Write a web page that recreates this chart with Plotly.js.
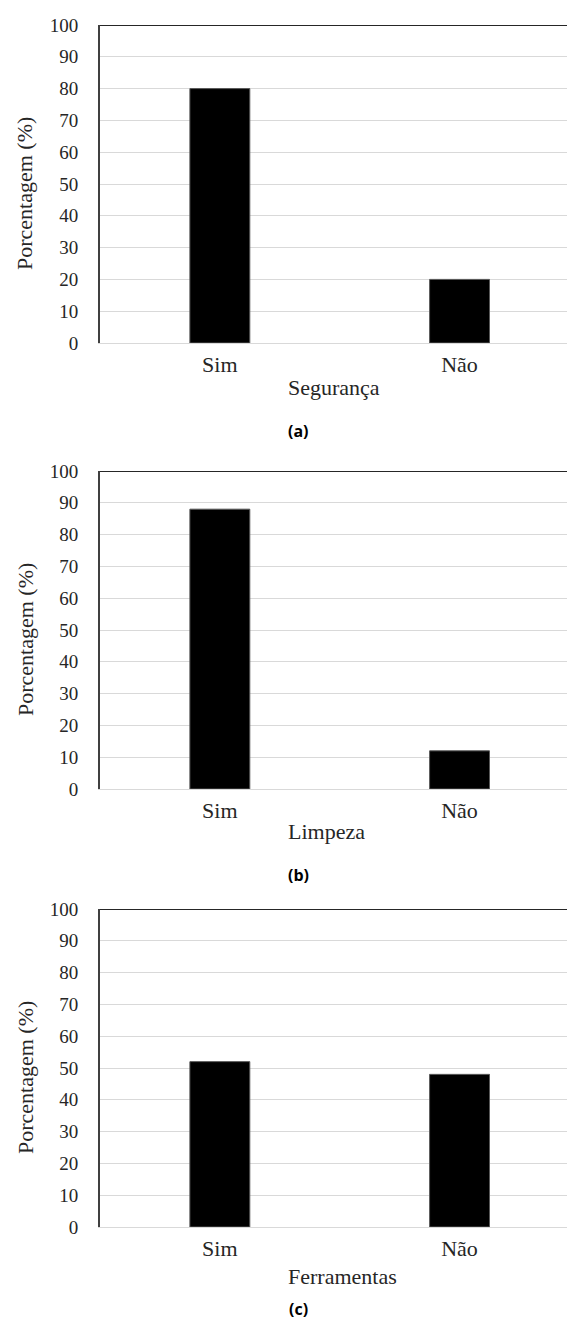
<!DOCTYPE html>
<html>
<head>
<meta charset="utf-8">
<script src="https://cdn.plot.ly/plotly-3.0.1.min.js"></script>
<style>html,body{margin:0;padding:0;background:#fff;}#chart{width:567px;height:1324px;}</style>
</head>
<body>
<div id="chart"></div>
<script>
// ---- data ----
const categories = ["Sim", "Não"];
const seguranca = [80, 20];
const limpeza = [88, 12];
const ferramentas = [52, 48];
const axisTitles = ["Segurança", "Limpeza", "Ferramentas"];
const panelLabels = ["(a)", "(b)", "(c)"];
const yTitle = "Porcentagem (%)";
const yTicks = [0, 10, 20, 30, 40, 50, 60, 70, 80, 90, 100];

// ---- layout geometry (pixels) ----
const W = 567, H = 1324, L = 100;
const PW = W - L;
const panels = [
  {top: 25, bottom: 343, titleY: 387, labelY: 431, ytitleY: 194},
  {top: 471, bottom: 789, titleY: 831, labelY: 875, ytitleY: 640},
  {top: 909, bottom: 1227, titleY: 1276, labelY: 1309, ytitleY: 1078}
];
const xp = px => (px - L) / PW;
const yp = py => 1 - py / H;
const series = [seguranca, limpeza, ferramentas];

const serif = "Liberation Serif";
const traces = [];
const layout = {
  width: W, height: H,
  margin: {l: L, r: 0, t: 0, b: 0, pad: 0},
  paper_bgcolor: "#fff", plot_bgcolor: "#fff",
  showlegend: false,
  bargap: 0.75,
  font: {family: serif},
  annotations: [], shapes: []
};

series.forEach((vals, i) => {
  const n = i === 0 ? "" : String(i + 1);
  const p = panels[i];
  traces.push({
    type: "bar", x: categories, y: vals,
    xaxis: "x" + n, yaxis: "y" + n,
    marker: {color: "#000", line: {color: "#595959", width: 1}},
    hoverinfo: "skip"
  });
  layout["xaxis" + n] = {
    domain: [0, 1], anchor: "y" + n, type: "category",
    range: [-0.5, -0.5 + PW / 239.7],
    showgrid: false, zeroline: false,
    showline: true, linecolor: "#d9d9d9", linewidth: 1,
    ticks: "", ticklabelstandoff: 2,
    tickfont: {family: serif, size: 22, color: "#262626"},
    fixedrange: true
  };
  layout["yaxis" + n] = {
    domain: [yp(p.bottom), yp(p.top)], anchor: "x" + n,
    range: [0, 100], tickvals: yTicks, ticktext: yTicks.map(String),
    showgrid: true, gridcolor: "#d9d9d9", gridwidth: 1,
    zeroline: false,
    showline: true, linecolor: "#404040", linewidth: 2,
    ticks: "", ticklabelstandoff: 16,
    tickfont: {family: serif, size: 19, color: "#262626"},
    fixedrange: true
  };
  layout.shapes.push({
    type: "line", xref: "x" + n + " domain", yref: "y" + n,
    x0: 0, x1: 1, y0: 100, y1: 100,
    line: {color: "#262626", width: 2}
  });
  layout.annotations.push({
    text: axisTitles[i], xref: "paper", yref: "paper",
    x: xp(286), y: yp(p.titleY), xanchor: "left", yanchor: "middle",
    showarrow: false, font: {family: serif, size: 22, color: "#262626"}
  });
  layout.annotations.push({
    text: yTitle, xref: "paper", yref: "paper", textangle: -90,
    x: xp(25), y: yp(p.ytitleY), xanchor: "center", yanchor: "middle",
    showarrow: false, font: {family: serif, size: 22, color: "#262626"}
  });
  layout.annotations.push({
    text: "<b>" + panelLabels[i] + "</b>", xref: "paper", yref: "paper",
    x: xp(298), y: yp(p.labelY), xanchor: "center", yanchor: "middle",
    showarrow: false, font: {family: "Open Sans", size: 16, color: "#000"}
  });
});

Plotly.newPlot("chart", traces, layout, {staticPlot: true, displayModeBar: false});
</script>
</body>
</html>
